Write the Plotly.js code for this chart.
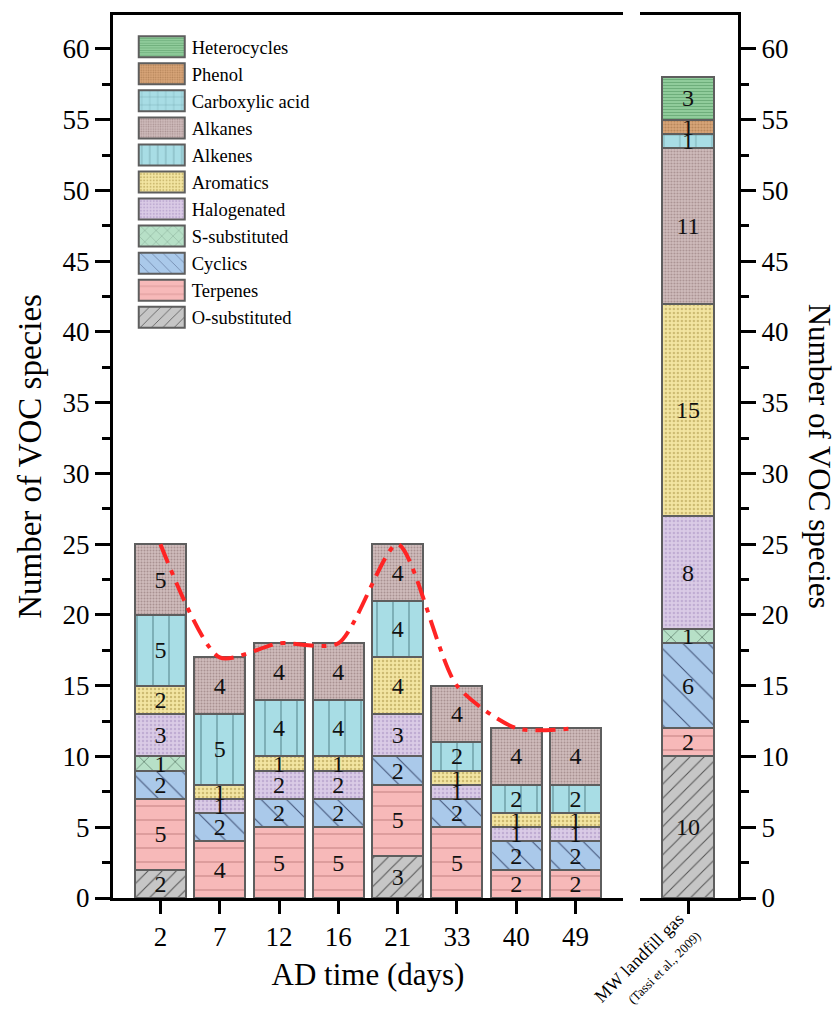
<!DOCTYPE html>
<html>
<head>
<meta charset="utf-8">
<script src="https://cdn.plot.ly/plotly-3.0.1.min.js"></script>
<style>html,body{margin:0;padding:0;background:#fff;}</style>
</head>
<body>
<div id="chart" style="width:837px;height:1010px;"></div>
<script>
// ---- data ----
const days = ['2', '7', '12', '16', '21', '33', '40', '49'];
const mwCategory = ['MW landfill gas'];
const mwLabelText = 'MW landfill gas<br><span style="font-size:13px">(Tassi et al., 2009)</span>';

const categories = ['O-substituted', 'Terpenes', 'Cyclics', 'S-substituted', 'Halogenated',
  'Aromatics', 'Alkenes', 'Alkanes', 'Carboxylic acid', 'Phenol', 'Heterocycles'];

const oSubstituted  = [2, 0, 0, 0, 3, 0, 0, 0];
const terpenes      = [5, 4, 5, 5, 5, 5, 2, 2];
const cyclics       = [2, 2, 2, 2, 2, 2, 2, 2];
const sSubstituted  = [1, 0, 0, 0, 0, 0, 0, 0];
const halogenated   = [3, 1, 2, 2, 3, 1, 1, 1];
const aromatics     = [2, 1, 1, 1, 4, 1, 1, 1];
const alkenes       = [5, 5, 4, 4, 4, 2, 2, 2];
const alkanes       = [5, 4, 4, 4, 4, 4, 4, 4];
const carboxylic    = [0, 0, 0, 0, 0, 0, 0, 0];
const phenol        = [0, 0, 0, 0, 0, 0, 0, 0];
const heterocycles  = [0, 0, 0, 0, 0, 0, 0, 0];

// MW landfill gas (Tassi et al., 2009), same category order as above
const mwValues = [10, 2, 6, 1, 8, 15, 0, 11, 1, 1, 3];

const vocTotal = [25, 17, 18, 18, 25, 15, 12, 12];

const seriesLeft = [oSubstituted, terpenes, cyclics, sSubstituted, halogenated,
  aromatics, alkenes, alkanes, carboxylic, phenol, heterocycles];

// ---- styles ----
const styles = [
  {bg: '#c6c6c6', fg: '#555555', shape: '/', size: 10, sol: 0.1},
  {bg: '#f7b9b9', fg: '#c98787', shape: '-', size: 14, sol: 0.08},
  {bg: '#aac9ea', fg: '#44557a', shape: '\\', size: 18, sol: 0.06},
  {bg: '#b7e0c7', fg: '#3d5a4a', shape: 'x', size: 22, sol: 0.05},
  {bg: '#dacbe6', fg: '#c0add3', shape: '.', size: 4, sol: 0.3},
  {bg: '#f3e5a2', fg: '#cdbb72', shape: '.', size: 4, sol: 0.3},
  {bg: '#a8dde5', fg: '#5c8c93', shape: '|', size: 16, sol: 0.07},
  {bg: '#d0bdbd', fg: '#a99191', shape: '.', size: 3, sol: 0.35},
  {bg: '#a8dde5', fg: '#5c8c93', shape: '+', size: 16, sol: 0.07},
  {bg: '#d9a679', fg: '#b5845a', shape: '.', size: 3, sol: 0.35},
  {bg: '#90cc9b', fg: '#6aaa77', shape: '-', size: 3, sol: 0.3}
];

const FONT = 'Liberation Serif, Times New Roman, serif';
const nz = arr => arr.map(v => (v === 0 ? null : v));

function makeMarker(s) {
  return {
    color: s.bg,
    line: {color: '#5e5e5e', width: 2},
    pattern: {shape: s.shape, size: s.size, solidity: s.sol, fgcolor: s.fg,
              bgcolor: s.bg, fillmode: 'replace'}
  };
}

const traces = [];
categories.forEach((name, i) => {
  traces.push({
    type: 'bar', name: name, legendgroup: name, showlegend: true,
    x: days, y: nz(seriesLeft[i]), xaxis: 'x', yaxis: 'y',
    marker: makeMarker(styles[i]), texttemplate: '%{y}', textposition: 'inside',
    insidetextanchor: 'middle', textangle: 0, constraintext: 'none',
    textfont: {family: FONT, size: 24, color: '#111'}, hoverinfo: 'name+y'
  });
});
categories.forEach((name, i) => {
  traces.push({
    type: 'bar', name: name, legendgroup: name, showlegend: false,
    x: mwCategory, y: nz([mwValues[i]]), xaxis: 'x2', yaxis: 'y2',
    marker: makeMarker(styles[i]),
    texttemplate: '%{y}', textposition: 'inside', insidetextanchor: 'middle',
    textangle: 0, constraintext: 'none',
    textfont: {family: FONT, size: 24, color: '#111'}, hoverinfo: 'name+y'
  });
});
traces.push({
  type: 'scatter', mode: 'lines', x: days, y: vocTotal, xaxis: 'x', yaxis: 'y',
  showlegend: false,
  line: {color: '#ff2424', width: 4, dash: '20px,8px,5px,8px', shape: 'spline', smoothing: 0.7}
});

const yr = [0, 62.4];
const axisCommon = {
  showline: true, linecolor: '#000', linewidth: 3, ticks: 'outside',
  tickcolor: '#000', tickwidth: 3, showgrid: false, zeroline: false,
  tickfont: {family: FONT, size: 27, color: '#000'}
};

const layout = {
  width: 837, height: 1010,
  margin: {l: 113, r: 99, t: 15, b: 112},
  paper_bgcolor: '#fff', plot_bgcolor: 'rgba(0,0,0,0)',
  barmode: 'stack', bargap: 0.14,
  uniformtext: {mode: 'show', minsize: 24},
  showlegend: true,
  font: {family: FONT, color: '#000'},
  legend: {
    x: 0.03, y: 0.985, xanchor: 'left', yanchor: 'top',
    traceorder: 'reversed', tracegroupgap: 0, itemwidth: 50,
    font: {family: FONT, size: 18.5, color: '#000'},
    bgcolor: 'rgba(0,0,0,0)', borderwidth: 0
  },
  xaxis: Object.assign({}, axisCommon, {
    domain: [0, 0.816], type: 'category', range: [-0.8, 7.8],
    mirror: true, ticklen: 13, anchor: 'y',
    title: {text: 'AD time (days)', font: {family: FONT, size: 31, color: '#000'}, standoff: 12}
  }),
  xaxis2: Object.assign({}, axisCommon, {
    domain: [0.843, 1], type: 'category', range: [-0.81, 0.84],
    mirror: true, ticklen: 13, anchor: 'y2', showticklabels: false
  }),
  yaxis: Object.assign({}, axisCommon, {
    range: yr, dtick: 5, tick0: 0, ticklen: 15, anchor: 'x',
    minor: {dtick: 2.5, ticks: 'outside', ticklen: 8, tickwidth: 3, tickcolor: '#000'},
    title: {text: 'Number of VOC species', font: {family: FONT, size: 33, color: '#000'}, standoff: 12}
  }),
  yaxis2: Object.assign({}, axisCommon, {
    range: yr, dtick: 5, tick0: 0, ticklen: 15, anchor: 'x2', side: 'right',
    minor: {dtick: 2.5, ticks: 'outside', ticklen: 8, tickwidth: 3, tickcolor: '#000'}
  }),
  annotations: [
    {
      xref: 'paper', yref: 'paper', x: 1.131, y: 0.5, xanchor: 'center', yanchor: 'middle',
      text: 'Number of VOC species', textangle: 90, showarrow: false,
      font: {family: FONT, size: 31, color: '#000'}
    },
    {
      xref: 'paper', yref: 'paper', x: 0.855, y: -0.076, xanchor: 'center', yanchor: 'middle',
      text: mwLabelText, textangle: -45, showarrow: false, align: 'right',
      font: {family: FONT, size: 18, color: '#000'}
    }
  ]
};

Plotly.newPlot('chart', traces, layout, {displayModeBar: false, staticPlot: true}).then(gd => {
  // enlarge legend swatches to match the reference's wide rectangles
  gd.querySelectorAll('.legend .legendpoints path').forEach(p => {
    p.setAttribute('d', 'M23,10.5H-23V-10.5H23Z');
  });
});
</script>
</body>
</html>
